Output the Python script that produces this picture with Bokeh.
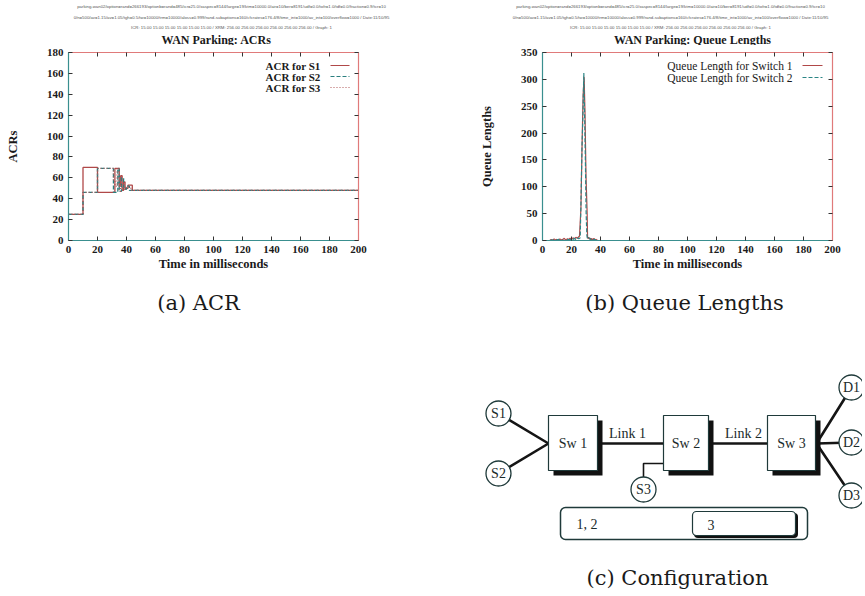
from bokeh.plotting import figure
from bokeh.layouts import column, row
from bokeh.models import Range1d, LinearAxis, FixedTicker, Label, Arrow
from bokeh.embed import file_html
from bokeh.resources import INLINE

# ---------------- data ----------------
# (a) ACR step curves (time in ms, ACR)
acr_s1_t = [0, 10, 20, 32, 35, 36, 37, 38, 39, 41, 44, 200]
acr_s1_v = [25, 70, 46, 69, 52, 62, 48, 56, 50, 53, 48, 48]
acr_s2_t = [0, 10, 20, 31, 34, 35, 36.5, 38, 40, 42, 200]
acr_s2_v = [25, 46, 69, 46, 69, 47, 60, 49, 52, 48, 48]
acr_s3_t = [0, 10, 20, 31, 32, 33.5, 35, 36, 37.5, 39, 43, 200]
acr_s3_v = [25, 46, 69, 58, 52, 69, 47, 55, 48, 51, 48, 48]

# (b) queue lengths
q_sw1_t = [5, 6, 7, 8, 9, 10, 11, 12, 13, 14, 15, 16, 17, 18, 19, 20, 21, 22, 23, 24,
           25, 25.5, 26.5, 27.3, 28, 28.7, 29.3, 30, 30.8, 31.1, 31.6, 32, 32.5, 33,
           33.5, 34, 34.5, 35, 35.5, 36, 37, 38, 200]
q_sw1_v = [0, 2, 0, 3, 1, 2, 0, 3, 1, 2, 4, 1, 3, 2, 4, 2, 5, 3, 6, 4,
           7, 8, 60, 180, 270, 305, 240, 120, 50, 4, 6, 3, 5, 2, 4, 1, 3, 2, 4, 1, 2, 0, 0]
q_sw2_t = [5, 7, 9, 11, 13, 15, 17, 19, 20, 21, 22, 23, 24, 25, 26, 26.6, 27.2,
           27.8, 28.5, 29.1, 29.6, 30.1, 30.6, 31, 32, 33, 34, 35, 36, 37, 200]
q_sw2_v = [0, 1, 0, 2, 1, 0, 2, 1, 3, 2, 4, 2, 5, 3, 5, 80, 170,
           225, 312, 225, 145, 50, 10, 3, 5, 2, 4, 1, 2, 0, 0]

x_ticks = [0, 20, 40, 60, 80, 100, 120, 140, 160, 180, 200]
acr_y_ticks = [0, 20, 40, 60, 80, 100, 120, 140, 160, 180]
q_y_ticks = [0, 50, 100, 150, 200, 250, 300, 350]

acr_names = ["ACR for S1", "ACR for S2", "ACR for S3"]
q_names = ["Queue Length for Switch 1", "Queue Length for Switch 2"]
titles = ["WAN Parking: ACRs", "WAN Parking: Queue Lengths"]
captions = ["(a) ACR", "(b) Queue Lengths", "(c) Configuration"]

header = [
    "parking-wan02/option=rand=266193/optionb=rand=485/icr=25.0/xaspec=8144/large=19/ktm=10000.0/air=10/ber=8191/udf=0.0/tofr=1.0/tdf=0.0/fraction=0.9/tcr=10",
    "0/n=500/av=1.15/av=1.05/tgh=0.5/tw=10000/trm=10000/aloss=0.999/rand-subaptions=160/cfcrates=176.4/8/time_int=1000/av_int=100/overflow=1000 / Date:11/10/95",
    "ICR: 15.00 15.00 15.00 15.00 15.00 15.00 / XRM: 256.00 256.00 256.00 256.00 256.00 256.00 / Graph: 1",
]

SERIF = "Liberation Serif"
TEAL = "#3a8f8f"
PINK = "#e07a7a"
RED = "#b04848"
DARK = "#1f3a3a"
TOTAL_W = 862
HEAD_H = 45


def style_axis(ax, ticks, color, labels):
    ax.ticker = FixedTicker(ticks=ticks)
    ax.axis_line_color = color
    ax.axis_line_width = 1.2
    ax.major_tick_in = 4
    ax.major_tick_out = 0
    ax.major_tick_line_color = "#333333"
    ax.minor_tick_line_color = None
    if labels:
        ax.major_label_text_font = SERIF
        ax.major_label_text_font_style = "bold"
        ax.major_label_text_font_size = "11px"
        ax.major_label_text_color = "#1a1a1a"
        ax.major_label_standoff = 5
        ax.axis_label_text_font = SERIF
        ax.axis_label_text_font_style = "bold"
        ax.axis_label_text_font_size = "12.5px"
        ax.axis_label_text_color = "#1a1a1a"
    else:
        ax.major_label_text_font_size = "1px"
        ax.major_label_text_color = None
        ax.major_label_standoff = 0


# header strip: run parameters + chart titles (pixel-like coordinates, y downwards)
ph = figure(width=TOTAL_W, height=HEAD_H, x_range=Range1d(0, TOTAL_W),
            y_range=Range1d(HEAD_H, 0), output_backend="svg", toolbar_location=None,
            min_border=0, x_axis_location=None, y_axis_location=None)
ph.outline_line_color = None
ph.grid.visible = False
for cx in [231, 670]:
    for line, yy in zip(header, [6, 16.5, 27]):
        ph.add_layout(Label(x=cx, y=yy, text=line, text_align="center", text_baseline="middle",
                            text_font="Liberation Sans", text_font_size="4.3px",
                            text_color="#555555"))
for txt, cx in zip(titles, [216, 692]):
    ph.add_layout(Label(x=cx, y=39, text=txt, text_align="center", text_baseline="middle",
                        text_font=SERIF, text_font_style="bold", text_font_size="12px",
                        text_color="#1a1a1a"))


def make_chart(width, left, right, yr, yticks, ylabel):
    p = figure(width=width, height=292 - HEAD_H, x_range=Range1d(0, 200),
               y_range=Range1d(*yr), output_backend="svg", toolbar_location=None,
               min_border_left=left, min_border_right=right,
               min_border_top=52 - HEAD_H, min_border_bottom=52)
    p.outline_line_color = None
    p.grid.visible = False
    style_axis(p.xaxis[0], x_ticks, TEAL, True)
    style_axis(p.yaxis[0], yticks, TEAL, True)
    p.xaxis[0].axis_label = "Time in milliseconds"
    p.xaxis[0].axis_label_standoff = 1
    p.yaxis[0].axis_label = ylabel
    p.yaxis[0].axis_label_standoff = 24
    top = LinearAxis()
    style_axis(top, x_ticks, PINK, False)
    p.add_layout(top, "above")
    rgt = LinearAxis()
    style_axis(rgt, yticks, PINK, False)
    p.add_layout(rgt, "right")
    return p


# (a) ACR
p1 = make_chart(440, 68, 82, (0, 180), acr_y_ticks, "ACRs")
acr_series = [(acr_s1_t, acr_s1_v, RED, "solid"),
              (acr_s2_t, acr_s2_v, "#2b7f7f", "4 2"),
              (acr_s3_t, acr_s3_v, "#b05a5a", "1 2")]
for t, v, c, d in acr_series:
    p1.step(t, v, mode="after", line_color=c, line_width=1.3, line_dash=d)
for i, (name, (_, _, c, d)) in enumerate(zip(acr_names, acr_series)):
    yy = 175 - 11 * i
    p1.add_layout(Label(x=252, y=yy, x_units="screen", y_units="screen", text=name,
                        text_align="right", text_baseline="middle", text_font=SERIF,
                        text_font_style="bold", text_font_size="11px", text_color="#1a1a1a"))
    p1.add_layout(Arrow(x_start=262, y_start=yy, x_end=281, y_end=yy,
                        start_units="screen", end_units="screen", end=None,
                        line_color=c, line_width=1, line_dash=d))

# (b) Queue lengths
p2 = make_chart(TOTAL_W - 440, 102, TOTAL_W - 440 - 102 - 290, (0, 350), q_y_ticks,
                "Queue Lengths")
q_series = [(q_sw1_t, q_sw1_v, RED, "solid"), (q_sw2_t, q_sw2_v, "#2b8585", "4 2")]
for t, v, c, d in q_series:
    p2.line(t, v, line_color=c, line_width=1.2, line_dash=d)
for i, (name, (_, _, c, d)) in enumerate(zip(q_names, q_series)):
    yy = 175 - 12 * i
    p2.add_layout(Label(x=250, y=yy, x_units="screen", y_units="screen", text=name,
                        text_align="right", text_baseline="middle", text_font=SERIF,
                        text_font_size="11.5px", text_color="#1a1a1a"))
    p2.add_layout(Arrow(x_start=260, y_start=yy, x_end=280, y_end=yy,
                        start_units="screen", end_units="screen", end=None,
                        line_color=c, line_width=1, line_dash=d))

# (c) configuration diagram + captions (pixel-like coordinates, y downwards)
p3 = figure(width=TOTAL_W, height=302, x_range=Range1d(0, TOTAL_W), y_range=Range1d(594, 292),
            output_backend="svg", toolbar_location=None, min_border=0,
            x_axis_location=None, y_axis_location=None)
p3.outline_line_color = None
p3.grid.visible = False

nodes = {"S1": (498, 413), "S2": (498, 473), "S3": (643, 489),
         "D1": (851, 387), "D2": (851, 442), "D3": (851, 495)}
switches = {"Sw 1": (548, 597), "Sw 2": (663, 708), "Sw 3": (767, 815)}
box_top, box_bot, mid_y = 415, 470, 443

# connections
p3.multi_line(
    xs=[[498, 548, 498], [597, 663], [708, 767], [851, 816, 851], [816, 851]],
    ys=[[413, 443, 473], [mid_y, mid_y], [mid_y, mid_y], [387, 443, 495], [443, 442]],
    line_color="#151515", line_width=2.6)
p3.line([643, 643, 663], [489, 463, 463], line_color="#151515", line_width=1.6)

# switch boxes with shadow
lefts = [v[0] for v in switches.values()]
rights = [v[1] for v in switches.values()]
p3.quad(left=[l + 5 for l in lefts], right=[r + 5 for r in rights],
        top=[box_top + 5] * 3, bottom=[box_bot + 5] * 3, fill_color="#111111", line_color=None)
p3.quad(left=lefts, right=rights, top=[box_top] * 3, bottom=[box_bot] * 3,
        fill_color="white", line_color=DARK, line_width=1.2)
for name, (l, r) in switches.items():
    p3.add_layout(Label(x=(l + r) / 2, y=mid_y, text=name, text_align="center",
                        text_baseline="middle", text_font=SERIF, text_font_size="14px",
                        text_color="#1a2a2a"))
for txt, xx in [("Link 1", 627), ("Link 2", 743)]:
    p3.add_layout(Label(x=xx, y=433, text=txt, text_align="center", text_baseline="middle",
                        text_font=SERIF, text_font_size="14px", text_color="#1a2a2a"))

# end-system circles
p3.scatter([v[0] for v in nodes.values()], [v[1] for v in nodes.values()], marker="circle",
           size=25, fill_color="white", line_color=DARK, line_width=1.3)
for name, (xx, yy) in nodes.items():
    p3.add_layout(Label(x=xx, y=yy, text=name, text_align="center", text_baseline="middle",
                        text_font=SERIF, text_font_size="14px", text_color="#1a2a2a"))

# session bar
p3.quad(left=[560], right=[807], top=[507], bottom=[539], fill_color="white",
        line_color=DARK, line_width=1.5, border_radius=5)
p3.quad(left=[693.5], right=[797.5], top=[512.5], bottom=[537.5], fill_color="#111111",
        line_color=None, border_radius=4)
p3.quad(left=[692], right=[795], top=[511], bottom=[535], fill_color="white",
        line_color=DARK, line_width=1.2, border_radius=4)
p3.add_layout(Label(x=576, y=524, text="1, 2", text_align="left", text_baseline="middle",
                    text_font=SERIF, text_font_size="14px", text_color="#1a2a2a"))
p3.add_layout(Label(x=707, y=524, text="3", text_align="left", text_baseline="middle",
                    text_font=SERIF, text_font_size="14px", text_color="#1a2a2a"))

# captions
for txt, xx, yy in zip(captions, [198, 684, 677], [302, 302, 577]):
    p3.add_layout(Label(x=xx, y=yy, text=txt, text_align="center", text_baseline="middle",
                        text_font="DejaVu Serif", text_font_size="21px", text_color="#1a1a1a"))

layout = column(ph, row(p1, p2, spacing=0), p3, spacing=0)
open("out.html", "w").write(file_html(layout, INLINE))
